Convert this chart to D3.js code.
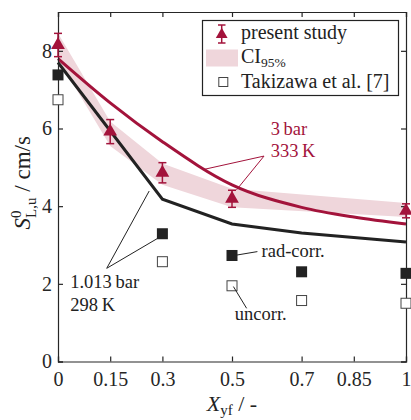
<!DOCTYPE html>
<html lang="en">
<head>
<meta charset="UTF-8">
<title>Laminar burning velocity</title>
<script src="https://cdnjs.cloudflare.com/ajax/libs/d3/7.8.5/d3.min.js"></script>
<style>
    body { margin: 0; background: #fff; }
    .axis path, .axis line { stroke: #262626; stroke-width: 1.2; }
    .axis text { font-size: 20px; fill: #262626; }
</style>
</head>
<body>
<div id="chart"></div>
<script>
    // values
    const xTicks = [0, 0.15, 0.3, 0.5, 0.7, 0.85, 1];
    const yTicks = [0, 2, 4, 6, 8];

    const studyX = [0, 0.15, 0.3, 0.5, 1];
    const studyY = [8.15, 5.92, 4.86, 4.19, 3.88];
    const studyErr = [0.3, 0.31, 0.26, 0.22, 0.18];
    const ciUpper = [8.45, 6.18, 5.1, 4.45, 4.08];
    const ciLower = [7.8, 5.55, 4.55, 3.97, 3.72];

    const hotX = [0, 0.15, 0.3, 0.5, 0.7, 0.85, 1];
    const hotY = [7.8, 6.66, 5.66, 4.55, 3.97, 3.72, 3.54];     // 3 bar, 333 K
    const coldX = [0, 0.3, 0.5, 0.7, 1];
    const coldY = [7.7, 4.18, 3.54, 3.31, 3.08];               // 1.013 bar, 298 K

    const takiX = [0, 0.3, 0.5, 0.7, 1];
    const radCorr = [7.38, 3.29, 2.73, 2.31, 2.27];
    const uncorr = [6.74, 2.57, 1.95, 1.57, 1.5];

    const red = "#a3133b";
    const band = "#efd6db";
    const dark = "#222";
    const serif = "Liberation Serif";

    const width = 411, height = 420;
    const margin = { top: 12, right: 5, bottom: 58.5, left: 58 };
    const w = width - margin.left - margin.right;
    const h = height - margin.top - margin.bottom;

    const svg = d3.select("#chart").append("svg")
        .attr("width", width)
        .attr("height", height)
        .style("font-family", serif);

    const g = svg.append("g")
        .attr("transform", `translate(${margin.left},${margin.top})`);

    const x = d3.scaleLinear().domain([0, 1]).range([0, w]);
    const y = d3.scaleLinear().domain([0, 9]).range([h, 0]);

    // CI band
    const area = d3.area()
        .x((d, i) => x(studyX[i]))
        .y0((d, i) => y(ciLower[i]))
        .y1((d, i) => y(ciUpper[i]));
    g.append("path")
        .datum(studyX)
        .attr("d", area)
        .attr("fill", band);

    // model lines
    const line = d3.line().x(d => x(d[0])).y(d => y(d[1]));
    g.append("path")
        .datum(coldX.map((v, i) => [v, coldY[i]]))
        .attr("d", line)
        .attr("fill", "none")
        .attr("stroke", dark)
        .attr("stroke-width", 3);
    g.append("path")
        .datum(hotX.map((v, i) => [v, hotY[i]]))
        .attr("d", line.curve(d3.curveMonotoneX))
        .attr("fill", "none")
        .attr("stroke", red)
        .attr("stroke-width", 3);

    // axes with inward ticks on all four sides
    const fmt = d3.format("");
    g.append("g").attr("class", "axis")
        .attr("transform", `translate(0,${h})`)
        .call(d3.axisBottom(x).tickValues(xTicks).tickFormat(fmt).tickSize(-5).tickPadding(10));
    g.append("g").attr("class", "axis")
        .call(d3.axisTop(x).tickValues(xTicks).tickFormat("").tickSize(-5));
    g.append("g").attr("class", "axis")
        .call(d3.axisLeft(y).tickValues(yTicks).tickFormat(fmt).tickSize(-5).tickPadding(6));
    g.append("g").attr("class", "axis")
        .attr("transform", `translate(${w},0)`)
        .call(d3.axisRight(y).tickValues(yTicks).tickFormat("").tickSize(-5));
    g.selectAll(".axis").attr("font-family", null).attr("font-size", 20);

    // Takizawa et al. squares
    const sq = 10;
    g.selectAll(".uncorr")
        .data(takiX)
        .enter().append("rect")
        .attr("x", d => x(d) - sq / 2)
        .attr("y", (d, i) => y(uncorr[i]) - sq / 2)
        .attr("width", sq).attr("height", sq)
        .attr("fill", "#fff")
        .attr("stroke", "#444")
        .attr("stroke-width", 1);
    g.selectAll(".radcorr")
        .data(takiX)
        .enter().append("rect")
        .attr("x", d => x(d) - sq / 2 - 0.5)
        .attr("y", (d, i) => y(radCorr[i]) - sq / 2 - 0.5)
        .attr("width", sq + 1).attr("height", sq + 1)
        .attr("fill", dark);

    // present study: error bars + triangles
    const tri = d3.symbol().type(d3.symbolTriangle).size(82);
    const pts = g.selectAll(".study")
        .data(studyX)
        .enter().append("g")
        .attr("transform", (d, i) => `translate(${x(d)},0)`);
    pts.append("line")
        .attr("y1", (d, i) => y(studyY[i] + studyErr[i]))
        .attr("y2", (d, i) => y(studyY[i] - studyErr[i]))
        .attr("stroke", red).attr("stroke-width", 1.5);
    [1, -1].forEach(s => {
        pts.append("line")
            .attr("x1", -4).attr("x2", 4)
            .attr("y1", (d, i) => y(studyY[i] + s * studyErr[i]))
            .attr("y2", (d, i) => y(studyY[i] + s * studyErr[i]))
            .attr("stroke", red).attr("stroke-width", 1.5);
    });
    pts.append("path")
        .attr("d", tri)
        .attr("transform", (d, i) => `translate(0,${y(studyY[i])})`)
        .attr("fill", red);

    // annotations (data coordinates)
    function leader(a, b, color) {
        g.append("line")
            .attr("x1", x(a[0])).attr("y1", y(a[1]))
            .attr("x2", x(b[0])).attr("y2", y(b[1]))
            .attr("stroke", color).attr("stroke-width", 1);
    }
    function label(pos, txt, color) {
        g.append("text").attr("x", x(pos[0])).attr("y", y(pos[1]))
            .attr("fill", color).attr("font-size", 18.5).text(txt);
    }
    const hotApex = [0.592, 5.29];
    leader(hotApex, [0.416, 4.94], red);
    leader(hotApex, [0.513, 4.42], red);
    label([0.611, 5.84], "3\u2009bar", red);
    label([0.611, 5.27], "333\u2009K", red);

    const coldApex = [0.14, 2.4];
    leader(coldApex, [0.262, 4.39], dark);
    leader(coldApex, [0.288, 3.18], dark);
    label([0.035, 1.89], "1.013\u2009bar", dark);
    label([0.035, 1.29], "298\u2009K", dark);

    leader([0.513, 2.74], [0.573, 2.83], dark);
    label([0.585, 2.7], "rad-corr.", dark);
    leader([0.504, 1.93], [0.542, 1.37], dark);
    label([0.508, 1.07], "uncorr.", dark);

    // legend
    const lg = svg.append("g");
    lg.append("rect")
        .attr("x", 202.5).attr("y", 20.5).attr("width", 196).attr("height", 75)
        .attr("fill", "#fff").attr("stroke", dark).attr("stroke-width", 1.2);
    lg.append("line").attr("x1", 221.7).attr("x2", 221.7).attr("y1", 25).attr("y2", 43)
        .attr("stroke", red).attr("stroke-width", 1.5);
    lg.append("line").attr("x1", 218).attr("x2", 225.5).attr("y1", 25).attr("y2", 25)
        .attr("stroke", red).attr("stroke-width", 1.5);
    lg.append("line").attr("x1", 218).attr("x2", 225.5).attr("y1", 43).attr("y2", 43)
        .attr("stroke", red).attr("stroke-width", 1.5);
    lg.append("path").attr("d", d3.symbol().type(d3.symbolTriangle).size(60))
        .attr("transform", "translate(221.7,34.5)").attr("fill", red);
    lg.append("rect").attr("x", 206).attr("y", 49.5).attr("width", 32).attr("height", 17)
        .attr("fill", band);
    lg.append("rect").attr("x", 218.8).attr("y", 77.5).attr("width", 9).attr("height", 9)
        .attr("fill", "#fff").attr("stroke", "#444").attr("stroke-width", 1);
    lg.append("text").attr("x", 241).attr("y", 39).attr("font-size", 20)
        .attr("fill", dark).text("present study");
    const ci = lg.append("text").attr("x", 241).attr("y", 63).attr("font-size", 20).attr("fill", dark);
    ci.append("tspan").text("CI");
    ci.append("tspan").attr("font-size", 13.5).attr("dy", 4).text("95%");
    lg.append("text").attr("x", 241).attr("y", 87.5).attr("font-size", 20)
        .attr("fill", dark).text("Takizawa et al. [7]");

    // axis titles
    const xl = svg.append("text")
        .attr("x", margin.left + w / 2).attr("y", 411)
        .attr("text-anchor", "middle").attr("font-size", 22).attr("fill", dark);
    xl.append("tspan").attr("font-style", "italic").text("X");
    xl.append("tspan").attr("font-size", 15).attr("dy", 4).text("yf");
    xl.append("tspan").attr("dy", -4).text(" / -");

    const yl = svg.append("text")
        .attr("transform", `translate(30,${margin.top + h / 2 - 4}) rotate(-90)`)
        .attr("text-anchor", "middle").attr("font-size", 23).attr("fill", dark);
    yl.append("tspan").attr("font-style", "italic").text("S");
    yl.append("tspan").attr("font-size", 15).attr("dy", -9).text("0");
    yl.append("tspan").attr("font-size", 15).attr("dx", -7.5).attr("dy", 15).text("L,u");
    yl.append("tspan").attr("dy", -6).text("  / cm/s");
</script>
</body>
</html>
